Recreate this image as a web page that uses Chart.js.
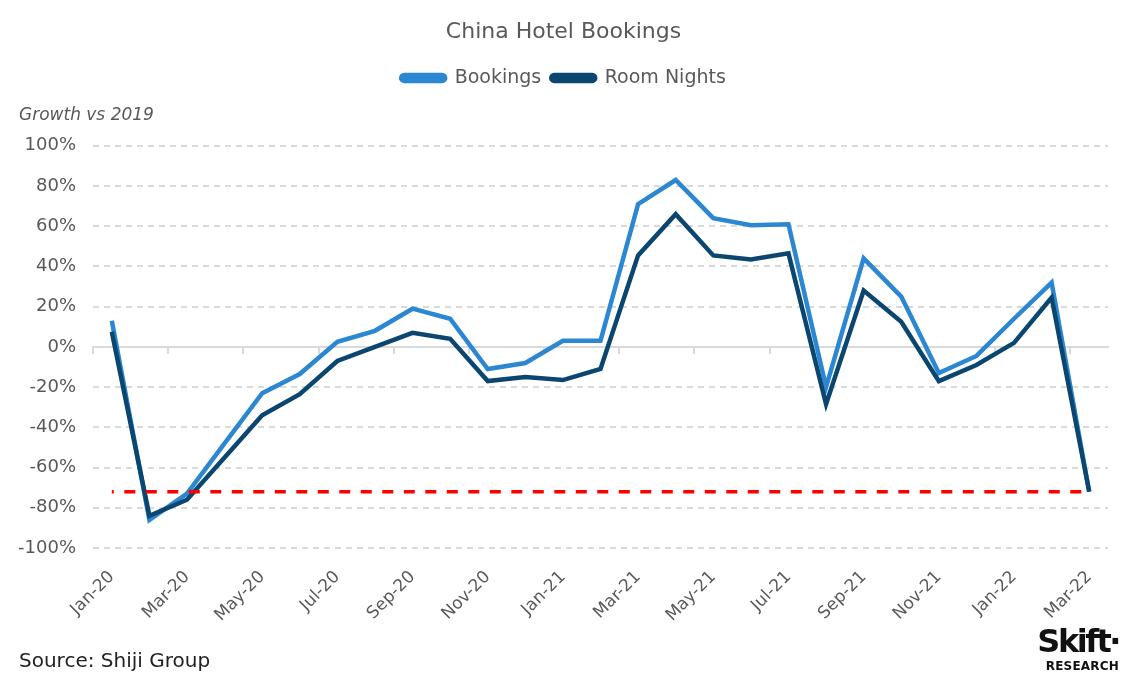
<!DOCTYPE html>
<html>
<head>
<meta charset="utf-8">
<title>China Hotel Bookings</title>
<script src="https://cdn.jsdelivr.net/npm/chart.js@4.4.0/dist/chart.umd.min.js"></script>
<style>
  html, body { margin: 0; padding: 0; background: #fff; }
  #wrap { position: relative; width: 1131px; height: 686px; }
  #source { position: absolute; left: 19px; top: 648px; font: 20px "DejaVu Sans", sans-serif; color: #222; }
  #logo { position: absolute; right: 12px; top: 625px; text-align: right; font-family: "DejaVu Sans", sans-serif; color: #111; line-height: 1; }
  #logo .big { font-size: 32px; font-weight: bold; letter-spacing: -2.5px; }
  #logo .small { font-size: 12px; font-weight: bold; letter-spacing: 0.2px; margin-top: 3px; }
</style>
</head>
<body>
<div id="wrap">
  <canvas id="chart" width="1131" height="686"></canvas>
  <div id="source">Source: Shiji Group</div>
  <div id="logo"><div class="big">Skift·</div><div class="small">RESEARCH</div></div>
</div>
<script>
// monthly growth vs 2019, in %
var months = ['Jan-20', 'Feb-20', 'Mar-20', 'Apr-20', 'May-20', 'Jun-20', 'Jul-20', 'Aug-20', 'Sep-20',
              'Oct-20', 'Nov-20', 'Dec-20', 'Jan-21', 'Feb-21', 'Mar-21', 'Apr-21', 'May-21', 'Jun-21',
              'Jul-21', 'Aug-21', 'Sep-21', 'Oct-21', 'Nov-21', 'Dec-21', 'Jan-22', 'Feb-22', 'Mar-22'];
var bookings   = [13, -86, -73, -48, -23, -13.5, 2.5, 8, 19, 14, -11, -8, 3, 3,
                  71, 83, 64, 60.5, 61, -20, 44, 25, -13, -4.5, 14, 32, -72];
var roomNights = [7.5, -84, -76, -55, -34, -23.5, -7, 0, 7, 4, -17, -15, -16.5, -11,
                  45.5, 66, 45.5, 43.5, 46.5, -28.5, 28, 12.5, -17, -9, 2, 24.5, -72];
// red dashed reference level
var floorLine  = [{x: 'Jan-20', y: -72}, {x: 'Mar-22', y: -72}];
var yTicks = {min: -100, max: 100, step: 20};

var grey = '#595959';
var gridGrey = '#d9d9d9';
var font = '"DejaVu Sans", sans-serif';

var ctx = document.getElementById('chart').getContext('2d');
var myChart = new Chart(ctx, {
    type: 'line',
    data: {
        labels: months,
        datasets: [{
            label: 'Bookings',
            data: bookings,
            borderColor: '#2B87D1',
            backgroundColor: '#2B87D1',
            borderWidth: 4.5,
            pointRadius: 0,
            tension: 0,
            order: 2
        }, {
            label: 'Room Nights',
            data: roomNights,
            borderColor: '#0B4670',
            backgroundColor: '#0B4670',
            borderWidth: 4.5,
            pointRadius: 0,
            tension: 0,
            order: 1
        }, {
            label: 'floor',
            data: floorLine,
            borderColor: '#FF0000',
            borderWidth: 3.5,
            borderDash: [11, 10.5],
            borderDashOffset: 9,
            pointRadius: 0,
            order: 0
        }]
    },
    options: {
        responsive: false,
        animation: false,
        layout: {padding: {left: 19, right: 23, top: 0, bottom: 0}},
        scales: {
            x: {
                type: 'category',
                offset: true,
                grid: {display: false},
                border: {display: false},
                ticks: {
                    autoSkip: false,
                    minRotation: 45,
                    maxRotation: 45,
                    padding: 11,
                    color: grey,
                    font: {family: font, size: 17},
                    callback: function (v, i) { return i % 2 === 0 ? months[i] : ''; }
                },
                afterFit: function (s) { s.height = 138; }
            },
            // zero line with its small tick marks
            x2: {
                type: 'category',
                offset: true,
                position: {y: 0},
                grid: {
                    offset: true,
                    drawOnChartArea: false,
                    drawTicks: true,
                    tickLength: 6,
                    lineWidth: 2,
                    color: function (c) { return c.index % 2 === 0 ? gridGrey : 'rgba(0,0,0,0)'; }
                },
                border: {display: true, color: gridGrey, width: 2},
                ticks: {display: false}
            },
            y: {
                min: yTicks.min,
                max: yTicks.max,
                grid: {
                    color: function (c) { return c.tick && c.tick.value === 0 ? 'rgba(0,0,0,0)' : gridGrey; },
                    lineWidth: 2,
                    drawTicks: false
                },
                border: {display: false, dash: [6, 5]},
                ticks: {
                    stepSize: yTicks.step,
                    padding: 17,
                    color: grey,
                    font: {family: font, size: 18},
                    callback: function (v) { return v + '%'; }
                },
                afterFit: function (s) { s.width = 74; }
            }
        },
        plugins: {
            title: {
                display: true,
                text: 'China Hotel Bookings',
                color: grey,
                font: {family: font, size: 22, weight: 'normal'},
                padding: {top: 19, bottom: 13}
            },
            legend: {
                labels: {
                    color: grey,
                    font: {family: font, size: 19},
                    boxWidth: 44,
                    boxHeight: 6,
                    useBorderRadius: true,
                    borderRadius: 3,
                    padding: 10,
                    filter: function (item) { return item.datasetIndex !== 2; },
                    sort: function (a, b) { return a.datasetIndex - b.datasetIndex; }
                }
            },
            subtitle: {
                display: true,
                text: 'Growth vs 2019',
                align: 'start',
                weight: 500,
                color: grey,
                font: {family: font, size: 17, style: 'italic'},
                padding: {top: 8, bottom: 20}
            },
            tooltip: {enabled: false}
        }
    }
});
</script>
</body>
</html>
